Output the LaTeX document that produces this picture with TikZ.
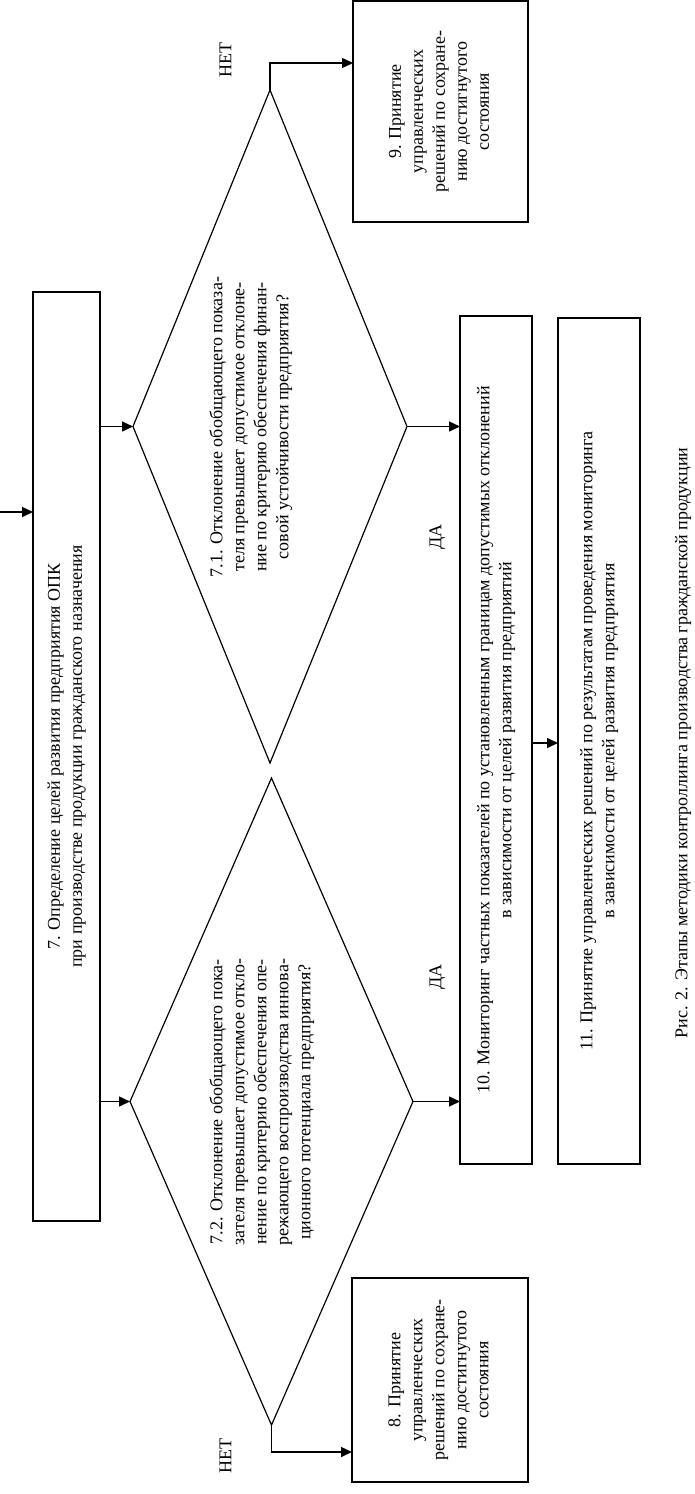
\documentclass[tikz,border=0pt]{standalone}
\usepackage{fontspec}
\setmainfont{Liberation Serif}
\usepackage{graphicx}
\usetikzlibrary{arrows.meta,shapes.geometric,calc}
\newcommand{\rt}[1]{\rotatebox{90}{\fontsize{18}{22}\selectfont\begin{tabular}{@{}c@{}}#1\end{tabular}}}
\tikzset{
  boxnode/.style={draw,line width=1.5pt,inner sep=0pt,outer sep=0pt,align=center},
  decision/.style={draw,diamond,line width=1.2pt,inner sep=0pt,outer sep=0pt},
  lbl/.style={inner sep=0pt,outer sep=0pt},
  arr/.style={line width=1.5pt,-{Triangle[length=11pt,width=10pt]}}
}
\begin{document}
\begin{tikzpicture}[x=1pt,y=-1pt]
\useasboundingbox (0,0) rectangle (694,1494);
% boxes
\node[boxnode,minimum width=67pt,minimum height=929pt] (b7) at (66.5,756.5)
  {\rt{7. Определение целей развития предприятия ОПК\\при производстве продукции гражданского назначения}};
\node[boxnode,minimum width=175pt,minimum height=221pt] (b9) at (440.5,111.5)
  {\rt{9. Принятие\\управленческих\\решений по сохране-\\нию достигнутого\\состояния}};
\node[boxnode,minimum width=176pt,minimum height=204pt] (b8) at (440,1380)
  {\rt{8. Принятие\\управленческих\\решений по сохране-\\нию достигнутого\\состояния}};
\node[boxnode,minimum width=72pt,minimum height=848pt] (b10) at (496,740)
  {\rt{10. Мониторинг частных показателей по установленным границам допустимых отклонений\\в зависимости от целей развития предприятий}};
\node[boxnode,minimum width=82pt,minimum height=846pt] (b11) at (599,741)
  {\rt{11. Принятие управленческих решений по результатам проведения мониторинга\\в зависимости от целей развития предприятия}};
% decisions
\node[decision,minimum width=274pt,minimum height=673pt] (d71) at (270,426.5) {};
\node[decision,minimum width=283pt,minimum height=647pt] (d72) at (271.5,1101.5) {};
\node[lbl] (t71) at (251,427)
  {\rt{7.1. Отклонение обобщающего показа-\\теля превышает допустимое отклоне-\\ние по критерию обеспечения финан-\\совой устойчивости предприятия?}};
\node[lbl] (t72) at (262,1102)
  {\rt{7.2. Отклонение обобщающего пока-\\зателя превышает допустимое откло-\\нение по критерию обеспечения опе-\\режающего воспроизводства иннова-\\ционного потенциала предприятия?}};
% labels
\node[lbl] (no1) at (227,60) {\rt{НЕТ}};
\node[lbl] (no2) at (227,1456) {\rt{НЕТ}};
\node[lbl] (yes1) at (437,537) {\rt{ДА}};
\node[lbl] (yes2) at (437,977) {\rt{ДА}};
\node[lbl] (cap) at (683,743) {\rt{Рис. 2. Этапы методики контроллинга производства гражданской продукции}};
% connectors
\coordinate (in) at (0,512);
\coordinate (k9) at (0,63);
\coordinate (k8) at (0,1452);
\draw[arr] (in) -- (in -| b7.west);
\draw[arr] (d71.west -| b7.east) -- (d71.west);
\draw[arr] (d72.west -| b7.east) -- (d72.west);
\draw[arr] (d71.north) |- (k9 -| b9.west);
\draw[arr] (d72.south) |- (k8 -| b8.west);
\draw[arr] (d71.east) -- (d71.east -| b10.west);
\draw[arr] (d72.east) -- (d72.east -| b10.west);
\draw[arr] (b10.east |- 0,743) -- (b11.west |- 0,743);
\end{tikzpicture}
\end{document}
